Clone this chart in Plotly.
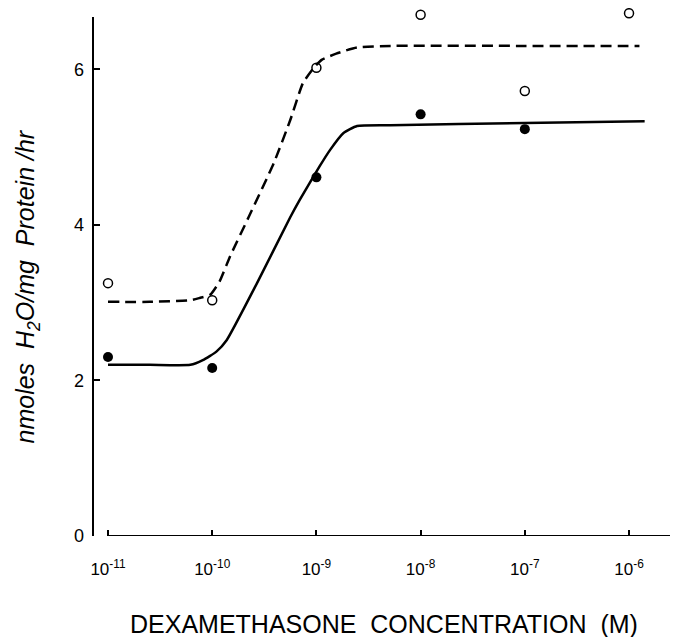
import plotly.graph_objects as go

# Data
conc_exp = [-11, -10, -9, -8, -7, -6]
open_vals = [3.25, 3.03, 6.02, 6.70, 5.72, 6.72]
filled_exp = [-11, -10, -9, -8, -7]
filled_vals = [2.30, 2.16, 4.61, 5.42, 5.23]

dashed_exp = [-11.0, -10.6, -10.21, -10.12, -10.02, -9.93, -9.83, -9.65, -9.41, -9.25,
              -9.13, -9.03, -8.95, -8.81, -8.61, -8.29, -7.0, -5.9]
dashed_vals = [3.01, 3.01, 3.03, 3.06, 3.10, 3.27, 3.59, 4.10, 4.79, 5.35,
               5.82, 6.01, 6.12, 6.20, 6.28, 6.30, 6.30, 6.30]

solid_exp = [-11.0, -10.6, -10.21, -10.09, -9.96, -9.86, -9.57, -9.25, -9.16, -8.97,
             -8.87, -8.74, -8.61, -8.29, -7.0, -5.85]
solid_vals = [2.20, 2.20, 2.20, 2.26, 2.37, 2.52, 3.25, 4.10, 4.32, 4.75,
              4.96, 5.18, 5.27, 5.28, 5.31, 5.33]

tick_exp = [-11, -10, -9, -8, -7, -6]
tick_text = ["10<sup>-11</sup>", "10<sup>-10</sup>", "10<sup>-9</sup>",
             "10<sup>-8</sup>", "10<sup>-7</sup>", "10<sup>-6</sup>"]
y_ticks = [0, 2, 4, 6]

FONT = "Liberation Sans"


def pw(lst):
    return [10.0 ** e for e in lst]


fig = go.Figure()
fig.add_trace(go.Scatter(x=pw(dashed_exp), y=dashed_vals, mode="lines",
                         line=dict(color="black", width=2.5, dash="11px,6px",
                                   shape="spline", smoothing=0.5),
                         hoverinfo="skip", cliponaxis=False))
fig.add_trace(go.Scatter(x=pw(solid_exp), y=solid_vals, mode="lines",
                         line=dict(color="black", width=2.5, shape="spline", smoothing=0.5),
                         hoverinfo="skip", cliponaxis=False))
fig.add_trace(go.Scatter(x=pw(conc_exp), y=open_vals, mode="markers",
                         marker=dict(symbol="circle-open", size=9, color="black",
                                     line=dict(width=1.5, color="black")),
                         cliponaxis=False))
fig.add_trace(go.Scatter(x=pw(filled_exp), y=filled_vals, mode="markers",
                         marker=dict(symbol="circle", size=10, color="black"),
                         cliponaxis=False))

fig.update_layout(
    width=670, height=629,
    margin=dict(l=85, r=0, t=0, b=101),
    paper_bgcolor="white", plot_bgcolor="white",
    showlegend=False,
    font=dict(family=FONT, color="black"),
    xaxis=dict(type="log", range=[-11.144, -5.53], showgrid=False, zeroline=False,
               showline=False, ticks="inside", ticklen=6, tickwidth=1.5, tickcolor="black",
               tickvals=pw(tick_exp), ticktext=tick_text,
               tickfont=dict(size=17, family=FONT, color="black"),
               ticklabelstandoff=21),
    yaxis=dict(range=[0, 6.787], showgrid=False, zeroline=False, showline=False,
               ticks="inside", ticklen=7, tickwidth=1.5,
               tickcolor="black", tickvals=y_ticks,
               tickfont=dict(size=18, family=FONT, color="black"),
               ticklabelstandoff=8),
    shapes=[
        dict(type="line", xref="paper", yref="y", x0=0.0256, x1=1, y0=0, y1=0,
             line=dict(color="black", width=2)),
        dict(type="line", xref="paper", yref="y", x0=0, x1=0, y0=0, y1=6.67,
             line=dict(color="black", width=2)),
    ],
    annotations=[
        dict(text="DEXAMETHASONE  CONCENTRATION  (M)", xref="paper", yref="paper",
             x=0.497, y=-0.167, xanchor="center", yanchor="middle",
             showarrow=False, font=dict(size=25, family=FONT, color="black")),
        dict(text="<i>nmoles  H<sub>2</sub>O/mg  Protein /hr</i>", xref="paper", yref="paper",
             x=-0.112, y=0.4735, xanchor="center", yanchor="middle",
             textangle=-90, showarrow=False, font=dict(size=25, family=FONT, color="black")),
    ],
)

fig.write_html("out.html")
